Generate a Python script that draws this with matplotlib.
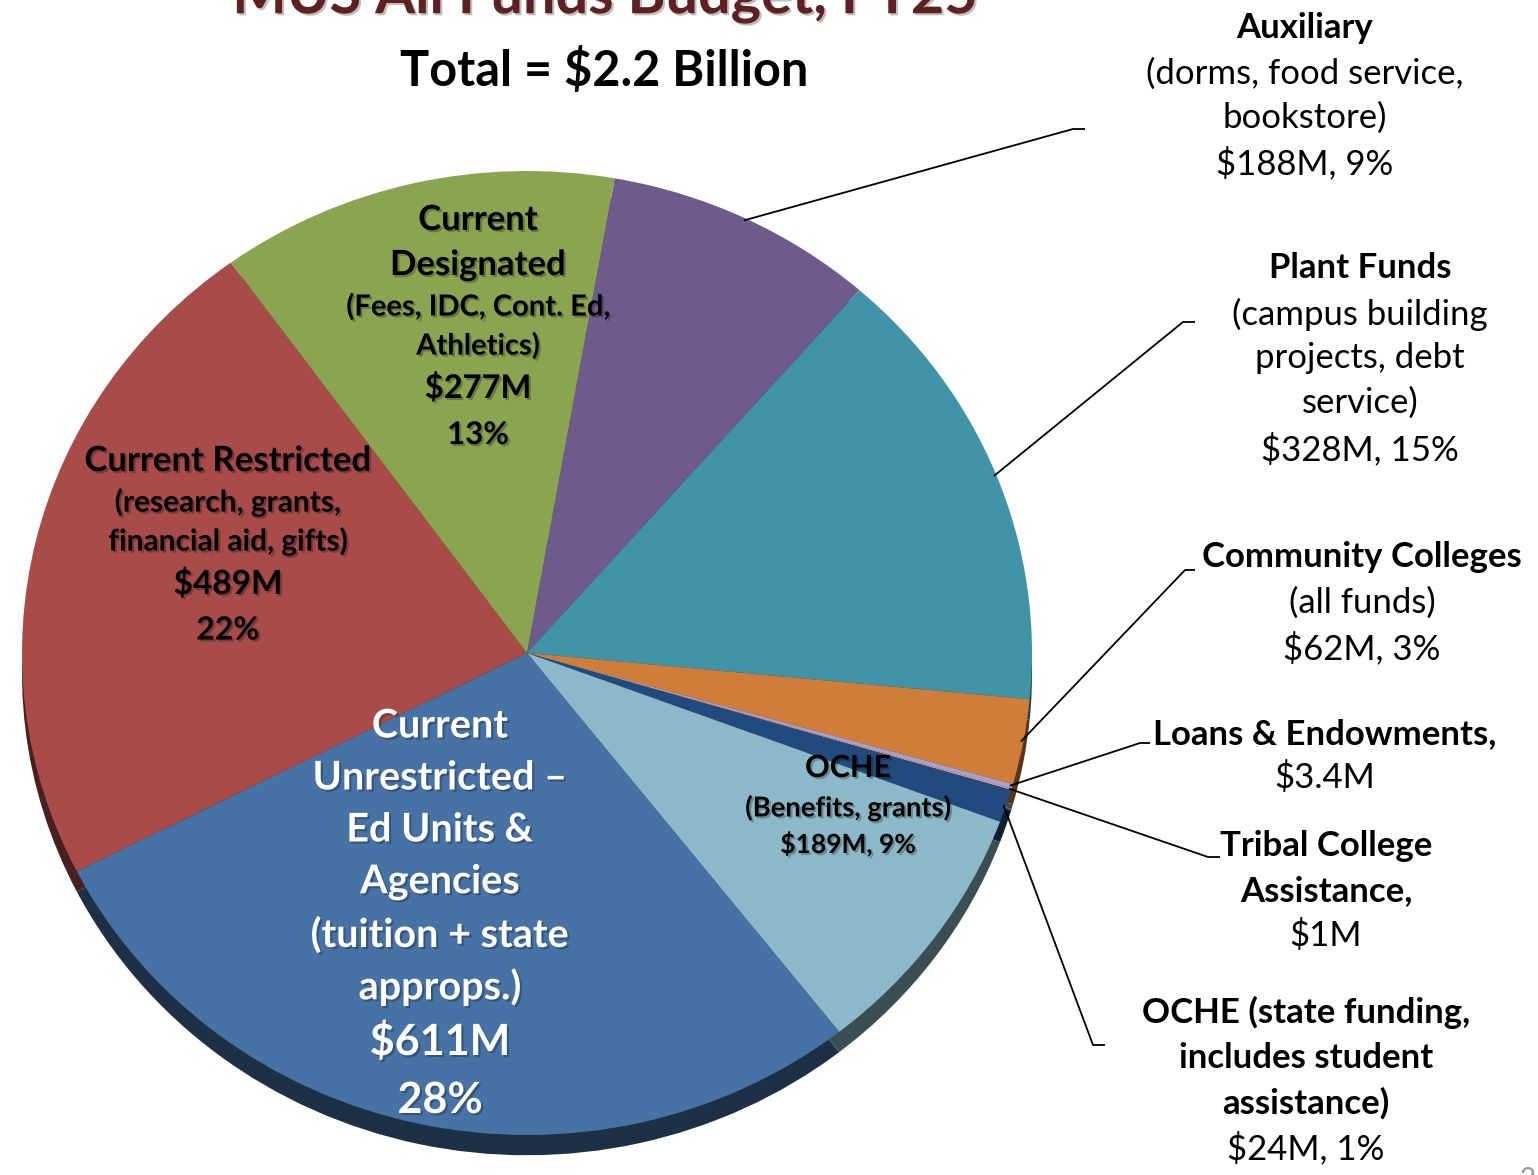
import matplotlib
matplotlib.use("Agg")
import matplotlib.pyplot as plt
import matplotlib.patheffects as pe
import numpy as np
from matplotlib.colors import to_rgb

# ---------------- data ----------------
categories = ["Auxiliary", "Plant Funds", "Community Colleges", "Loans & Endowments",
              "Tribal College Assistance", "OCHE (state funding)", "OCHE (Benefits, grants)",
              "Current Unrestricted", "Current Restricted", "Current Designated"]
values_musd = [188, 328, 62, 3.4, 1, 24, 189, 611, 489, 277]
slice_colors = ["#6F5A8C", "#4193A8", "#D07D3A", "#A7A0CC", "#D9A0A8", "#214A7E",
                "#8CB9C9", "#4672A5", "#A84B49", "#8AA450"]
title_text = "MUS All Funds Budget, FY25"
subtitle_text = "Total = $2.2 Billion"

# ---------------- figure ----------------
W, H = 1538, 1175
plt.rcParams["font.family"] = ["Lato", "DejaVu Sans"]
fig = plt.figure(figsize=(W / 100, H / 100), dpi=100)

cx, cy, rx, ry = 527, 653, 505, 482
ylo = -1.12
ax = fig.add_axes([(cx - rx) / W, 1 - (cy - ylo * ry) / H, 2 * rx / W, (1 - ylo) * ry / H])

dark = [tuple(c * 0.42 for c in to_rgb(col)) for col in slice_colors]
ax.pie(values_musd, colors=dark, startangle=80, counterclock=False, radius=1,
       center=(0, -0.042), wedgeprops=dict(linewidth=0))
wedges, _ = ax.pie(values_musd, colors=slice_colors, startangle=80, counterclock=False,
                   radius=1, wedgeprops=dict(linewidth=0))
ax.set_aspect("auto")
ax.set_xlim(-1, 1)
ax.set_ylim(ylo, 1)
ax.axis("off")

ov = fig.add_axes([0, 0, 1, 1], zorder=5)
ov.set_xlim(0, W)
ov.set_ylim(H, 0)
ov.axis("off")
ov.patch.set_alpha(0)


def edge_point(idx, r=1.0):
    w = wedges[idx]
    mid = np.deg2rad((w.theta1 + w.theta2) / 2)
    disp = ax.transData.transform((r * np.cos(mid), r * np.sin(mid)))
    return ov.transData.inverted().transform(disp)


shadow = [pe.withSimplePatchShadow(offset=(1.5, -1.5), shadow_rgbFace="black", alpha=0.25)]


def lines(x, ys, texts, size, weights, color="black", fx=None):
    for y, t, s, wgt in zip(ys, texts, size, weights):
        ov.text(x, y, t, ha="center", va="center", fontsize=s, fontweight=wgt,
                color=color, path_effects=fx)


# title
ov.text(605, -3, title_text, ha="center", va="center", fontsize=41.5, fontweight="bold",
        color="#5E2020", path_effects=shadow)
ov.text(604, 70, subtitle_text, ha="center", va="center", fontsize=35, fontweight="bold",
        color="black")

# inside labels
lines(478, [220, 265, 307, 346, 388, 435],
      ["Current", "Designated", "(Fees, IDC, Cont. Ed,", "Athletics)", "$277M", "13%"],
      [25, 25, 21, 21, 23.5, 22.5], ["bold"] * 6, fx=shadow)
lines(228, [461, 502, 541, 584, 630],
      ["Current Restricted", "(research, grants,", "financial aid, gifts)", "$489M", "22%"],
      [25, 21.5, 21.5, 24, 23], ["bold"] * 5, fx=shadow)
lines(440, [726, 778, 830, 882, 935, 987, 1041, 1100],
      ["Current", "Unrestricted \u2013", "Ed Units &", "Agencies", "(tuition + state",
       "approps.)", "$611M", "28%"],
      [28.5, 28.5, 28.5, 28.5, 28.5, 28.5, 31, 31], ["bold"] * 8, color="white", fx=shadow)
lines(848, [768, 808, 844],
      ["OCHE", "(Benefits, grants)", "$189M, 9%"],
      [22, 19.7, 19], ["bold"] * 3, fx=shadow)

# outside labels
fs = 25
lines(1305, [28, 74, 118, 163],
      ["Auxiliary", "(dorms, food service,", "bookstore)", "$188M, 9%"],
      [fs] * 4, ["bold", "normal", "normal", "normal"])
lines(1360, [268, 314, 358, 403, 449],
      ["Plant Funds", "(campus building", "projects, debt", "service)", "$328M, 15%"],
      [fs] * 5, ["bold"] + ["normal"] * 4)
lines(1362, [557, 603, 648],
      ["Community Colleges", "(all funds)", "$62M, 3%"],
      [fs] * 3, ["bold", "normal", "normal"])
lines(1325, [734, 778], ["Loans & Endowments,", "$3.4M"], [fs] * 2, ["bold", "normal"])
lines(1326, [846, 891, 936], ["Tribal College", "Assistance,", "$1M"],
      [fs] * 3, ["bold", "bold", "normal"])
lines(1306, [1012, 1058, 1103, 1148],
      ["OCHE (state funding,", "includes student", "assistance)", "$24M, 1%"],
      [fs] * 4, ["bold", "bold", "bold", "normal"])

# leader lines: (slice index, knee point, end point)
leaders = [(0, (1073, 129), (1085, 129)),
           (1, (1183, 322), (1195, 322)),
           (2, (1185, 570), (1195, 570)),
           (3, (1140, 743), (1150, 743)),
           (4, (1208, 857), (1220, 857)),
           (5, (1093, 1045), (1105, 1045))]
for idx, knee, end in leaders:
    p = edge_point(idx, 0.995)
    ov.plot([p[0], knee[0], end[0]], [p[1], knee[1], end[1]], color="black", lw=1.3,
            solid_capstyle="butt")

ov.text(1528, 1180, "2", ha="center", va="center", fontsize=20, color="#999999")

fig.savefig("out.png", dpi=100)
